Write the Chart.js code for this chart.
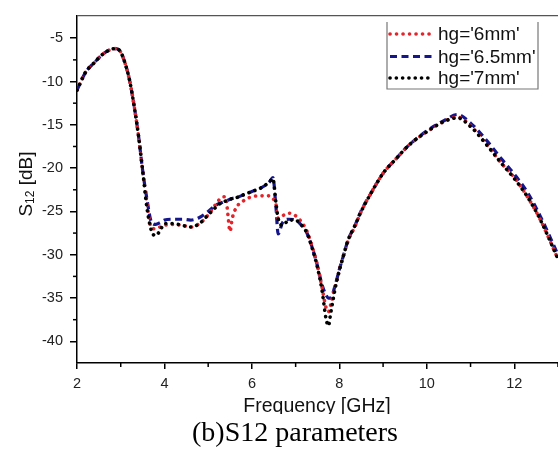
<!DOCTYPE html>
<html>
<head>
<meta charset="utf-8">
<script src="https://cdn.jsdelivr.net/npm/chart.js@4.4.1/dist/chart.umd.min.js"></script>
<style>
  html, body { margin: 0; padding: 0; background: #fff; }
  #s12Chart { display: block; }
</style>
</head>
<body>
<canvas id="s12Chart" width="558" height="450"></canvas>
<script>
// Frequency points (GHz) shared by the three sweeps
const freq = [2.0, 2.2, 2.4, 2.6, 2.8, 2.9, 3.0, 3.1, 3.2, 3.3, 3.4, 3.5, 3.6, 3.7, 3.8, 3.9,
  4.0, 4.2, 4.4, 4.6, 4.8, 5.0, 5.2, 5.3, 5.4, 5.45, 5.5, 5.55, 5.65, 5.8, 6.0, 6.2, 6.4, 6.48,
  6.55, 6.6, 6.7, 6.85, 7.0, 7.1, 7.25, 7.4, 7.5, 7.6, 7.7, 7.75, 7.8, 7.9, 8.0, 8.1, 8.2, 8.35,
  8.5, 8.7, 9.0, 9.3, 9.6, 10.0, 10.4, 10.7, 11.0, 11.4, 11.7, 12.0, 12.3, 12.6, 13.0];

// S12 in dB for each ground height
const s12_6mm = [-11.0, -8.9, -7.8, -6.8, -6.25, -6.2, -6.6, -7.9, -9.8, -12.6, -16.0, -20.2,
  -24.0, -26.9, -27.0, -26.8, -26.6, -26.5, -26.6, -26.8, -26.4, -25.4, -24.0, -23.4, -23.3,
  -25.3, -27.3, -25.8, -24.5, -23.8, -23.3, -23.2, -23.2, -23.5, -24.2, -25.8, -25.5, -25.2,
  -25.5, -26.0, -27.2, -29.4, -31.3, -33.7, -36.2, -36.6, -35.8, -33.7, -31.8, -30.0, -28.4,
  -26.8, -25.0, -23.1, -20.6, -18.9, -17.3, -15.8, -14.6, -14.1, -15.1, -17.5, -19.4, -21.1,
  -23.3, -26.0, -30.5];
const s12_65mm = [-11.0, -8.9, -7.8, -6.8, -6.25, -6.2, -6.6, -7.9, -9.8, -12.6, -16.0, -20.2,
  -23.6, -26.2, -26.5, -26.3, -26.0, -25.9, -25.9, -26.0, -25.7, -25.0, -24.2, -24.0, -23.8,
  -23.7, -23.6, -23.5, -23.4, -23.1, -22.7, -22.3, -21.6, -21.1, -24.5, -27.6, -26.3, -25.9,
  -26.0, -26.4, -27.4, -29.5, -31.3, -33.4, -34.7, -35.0, -35.0, -33.6, -31.7, -30.0, -28.3,
  -26.7, -24.9, -23.1, -20.6, -18.9, -17.3, -15.7, -14.5, -13.8, -14.8, -17.0, -18.9, -20.7,
  -22.8, -25.6, -30.0];
const s12_7mm = [-11.0, -8.9, -7.8, -6.8, -6.25, -6.2, -6.6, -7.9, -9.8, -12.6, -16.0, -20.2,
  -24.6, -27.2, -27.8, -27.2, -26.4, -26.4, -26.6, -26.8, -26.4, -25.4, -24.4, -24.0, -23.8,
  -23.7, -23.6, -23.5, -23.4, -23.1, -22.7, -22.3, -21.6, -21.2, -24.0, -25.8, -26.6, -26.0,
  -26.0, -26.4, -27.4, -29.6, -31.5, -34.0, -37.5, -38.2, -36.8, -34.0, -31.8, -30.0, -28.3,
  -26.7, -25.0, -23.1, -20.6, -18.9, -17.3, -15.8, -14.6, -14.2, -15.2, -17.5, -19.4, -21.2,
  -23.3, -26.0, -30.5];

const seriesLabels = ["hg='6mm'", "hg='6.5mm'", "hg='7mm'"];

// Axis ticks
const xTicks = [2, 4, 6, 8, 10, 12];
const xMinor = [3, 5, 7, 9, 11, 13];
const yTicks = [-40, -35, -30, -25, -20, -15, -10, -5];
const yMinor = [-37.5, -32.5, -27.5, -22.5, -17.5, -12.5, -7.5];

const SANS = "'Liberation Sans', Arial, sans-serif";
const SERIF = "'Liberation Serif', 'Times New Roman', serif";

function toPoints(ys) {
  return freq.map((f, i) => ({ x: f, y: ys[i] }));
}

// Extra drawing: frame line, minor ticks, boxed legend, axis titles, caption
const decorPlugin = {
  id: 'decor',
  afterDraw(chart) {
    const ctx = chart.ctx;
    const area = chart.chartArea;
    const xs = chart.scales.x;
    const ys = chart.scales.y;
    ctx.save();

    // top frame line
    ctx.strokeStyle = '#555';
    ctx.lineWidth = 1.2;
    ctx.beginPath();
    ctx.moveTo(area.left, area.top);
    ctx.lineTo(area.right, area.top);
    ctx.stroke();

    // minor ticks
    ctx.strokeStyle = '#000';
    ctx.lineWidth = 1.5;
    xMinor.forEach(v => {
      const px = xs.getPixelForValue(v);
      ctx.beginPath();
      ctx.moveTo(px, area.bottom);
      ctx.lineTo(px, area.bottom + 4);
      ctx.stroke();
    });
    yMinor.forEach(v => {
      const py = ys.getPixelForValue(v);
      ctx.beginPath();
      ctx.moveTo(area.left - 4, py);
      ctx.lineTo(area.left, py);
      ctx.stroke();
    });

    // legend box
    const lg = { left: 387, right: 538, top: 22, bottom: 89 };
    ctx.fillStyle = '#fff';
    ctx.fillRect(lg.left, lg.top, lg.right - lg.left, lg.bottom - lg.top);
    ctx.strokeStyle = '#777';
    ctx.lineWidth = 1.2;
    ctx.beginPath();
    ctx.moveTo(lg.left, lg.top);
    ctx.lineTo(lg.left, lg.bottom);
    ctx.lineTo(lg.right, lg.bottom);
    ctx.lineTo(lg.right, lg.top);
    ctx.stroke();

    const rowY = [34, 56.5, 78];
    chart.data.datasets.forEach((ds, i) => {
      ctx.save();
      ctx.strokeStyle = ds.borderColor;
      ctx.lineWidth = ds.borderWidth;
      ctx.lineCap = ds.borderCapStyle;
      ctx.setLineDash(ds.borderDash);
      ctx.beginPath();
      ctx.moveTo(lg.left + 3, rowY[i]);
      ctx.lineTo(lg.left + 46, rowY[i]);
      ctx.stroke();
      ctx.restore();
      ctx.fillStyle = '#111';
      ctx.font = '19px ' + SANS;
      ctx.textAlign = 'left';
      ctx.textBaseline = 'middle';
      ctx.fillText(ds.label, lg.left + 51, rowY[i] + 1);
    });

    // y axis title S12 [dB] with subscript
    ctx.save();
    ctx.translate(32, 184);
    ctx.rotate(-Math.PI / 2);
    ctx.fillStyle = '#111';
    ctx.textBaseline = 'alphabetic';
    ctx.textAlign = 'left';
    ctx.font = '19px ' + SANS;
    const wS = ctx.measureText('S').width;
    const wRest = ctx.measureText(' [dB]').width;
    ctx.font = '12px ' + SANS;
    const wSub = ctx.measureText('12').width;
    let tx = -(wS + wSub + wRest) / 2;
    ctx.font = '19px ' + SANS;
    ctx.fillText('S', tx, 0);
    tx += wS;
    ctx.font = '12px ' + SANS;
    ctx.fillText('12', tx, 2);
    tx += wSub;
    ctx.font = '19px ' + SANS;
    ctx.fillText(' [dB]', tx, 0);
    ctx.restore();

    // x axis title
    ctx.fillStyle = '#111';
    ctx.font = '19.5px ' + SANS;
    ctx.textAlign = 'center';
    ctx.textBaseline = 'alphabetic';
    ctx.fillText('Frequency [GHz]', 317, 412);

    // caption band (covers the descenders of the axis title, as in the figure)
    ctx.fillStyle = '#fff';
    ctx.fillRect(0, 414, chart.width, chart.height - 414);
    ctx.fillStyle = '#000';
    ctx.font = '28px ' + SERIF;
    ctx.textAlign = 'center';
    ctx.fillText('(b)S12 parameters', 295, 441);

    ctx.restore();
  }
};

const ctx = document.getElementById('s12Chart').getContext('2d');
new Chart(ctx, {
  type: 'line',
  data: {
    datasets: [
      {
        label: seriesLabels[0],
        data: toPoints(s12_6mm),
        borderColor: '#e3242b',
        borderWidth: 3.6,
        borderDash: [0.1, 6.4],
        borderCapStyle: 'round',
        order: 1
      },
      {
        label: seriesLabels[1],
        data: toPoints(s12_65mm),
        borderColor: '#16168c',
        borderWidth: 3.2,
        borderDash: [7, 4.5],
        borderCapStyle: 'butt',
        order: 2
      },
      {
        label: seriesLabels[2],
        data: toPoints(s12_7mm),
        borderColor: '#000000',
        borderWidth: 3.6,
        borderDash: [0.1, 6.2],
        borderCapStyle: 'round',
        order: 0
      }
    ]
  },
  options: {
    responsive: false,
    animation: false,
    devicePixelRatio: 1,
    layout: { padding: { left: 0, top: 7, right: 0, bottom: 0 } },
    elements: {
      point: { radius: 0, hoverRadius: 0 },
      line: { tension: 0.4, cubicInterpolationMode: 'monotone', fill: false }
    },
    plugins: {
      legend: { display: false },
      tooltip: { enabled: false },
      title: { display: false }
    },
    scales: {
      x: {
        type: 'linear',
        min: 2,
        max: 13,
        afterBuildTicks: s => { s.ticks = xTicks.map(v => ({ value: v })); },
        afterFit: s => { s.height = 87; },
        ticks: { color: '#222', font: { family: SANS, size: 14.5 }, padding: 6, maxRotation: 0 },
        grid: { drawOnChartArea: false, drawTicks: true, tickLength: 6, color: '#000', lineWidth: 1.5 },
        border: { display: true, color: '#000', width: 1.5 },
        title: { display: false }
      },
      y: {
        type: 'linear',
        min: -42.5,
        max: -2.4,
        afterBuildTicks: s => { s.ticks = yTicks.map(v => ({ value: v })); },
        afterFit: s => { s.width = 77; },
        ticks: { color: '#222', font: { family: SANS, size: 14.5 }, padding: 7 },
        grid: { drawOnChartArea: false, drawTicks: true, tickLength: 7, color: '#000', lineWidth: 1.5 },
        border: { display: true, color: '#000', width: 1.5 },
        title: { display: false }
      }
    }
  },
  plugins: [decorPlugin]
});
</script>
</body>
</html>
